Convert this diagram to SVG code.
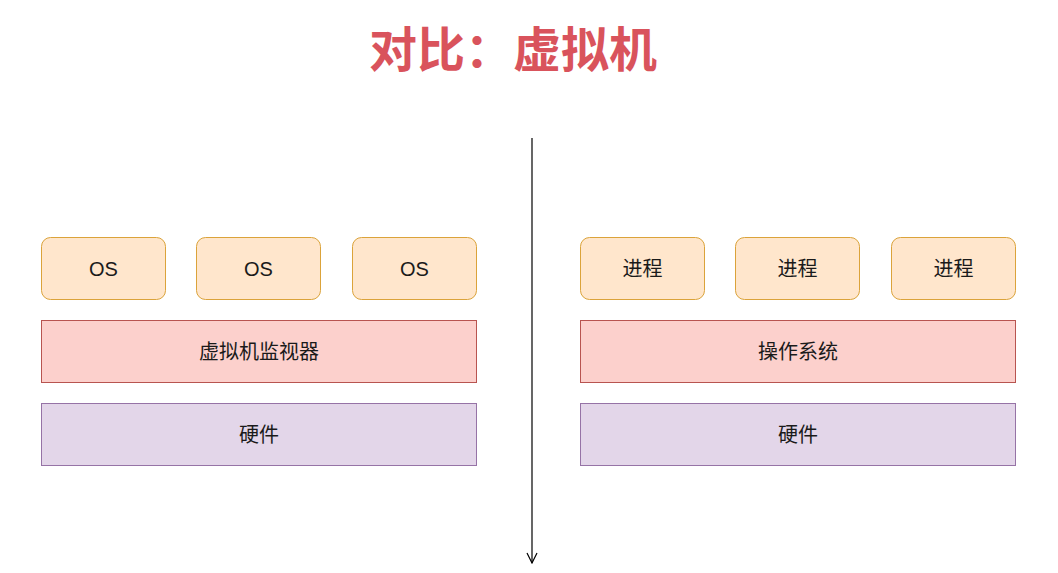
<svg xmlns="http://www.w3.org/2000/svg" width="1058" height="573" viewBox="0 0 1058 573">
<defs>
<style>
.o{fill:#ffe6cc;stroke:#dba33a;stroke-width:1}
.r{fill:#fcd0cc;stroke:#b85450;stroke-width:1}
.p{fill:#e3d6e9;stroke:#9673a6;stroke-width:1}
.t{font-family:"Liberation Sans","Noto Sans CJK SC",sans-serif;font-size:20px;fill:#1a1a1a;text-anchor:middle;dominant-baseline:central}
.title{font-family:"Noto Sans CJK SC",sans-serif;font-size:48px;font-weight:bold;fill:#d9535c;text-anchor:middle}
</style>
<marker id="ah" viewBox="0 0 12 12" refX="11" refY="6" markerWidth="12" markerHeight="12" markerUnits="userSpaceOnUse" orient="auto">
<path d="M1,1 L11,6 L1,11" fill="none" stroke="#000" stroke-width="1.2"/>
</marker>
</defs>
<rect width="1058" height="573" fill="#fff"/>
<text class="title" x="513" y="67">对比：虚拟机</text>
<g id="connectors">
<line x1="532" y1="138" x2="532" y2="563" stroke="#000" stroke-width="1.2" marker-end="url(#ah)"/>
</g>
<g id="os1"><rect class="o" x="41.5" y="237.5" width="124" height="62" rx="9"/><text class="t" x="103.5" y="268.5">OS</text></g>
<g id="os2"><rect class="o" x="196.5" y="237.5" width="124" height="62" rx="9"/><text class="t" x="258.5" y="268.5">OS</text></g>
<g id="os3"><rect class="o" x="352.5" y="237.5" width="124" height="62" rx="9"/><text class="t" x="414.5" y="268.5">OS</text></g>
<g id="vmm"><rect class="r" x="41.5" y="320.5" width="435" height="62"/><text class="t" x="259" y="351.5">虚拟机监视器</text></g>
<g id="hw1"><rect class="p" x="41.5" y="403.5" width="435" height="62"/><text class="t" x="259" y="434.5">硬件</text></g>
<g id="proc1"><rect class="o" x="580.5" y="237.5" width="124" height="62" rx="9"/><text class="t" x="642.5" y="268.5">进程</text></g>
<g id="proc2"><rect class="o" x="735.5" y="237.5" width="124" height="62" rx="9"/><text class="t" x="797.5" y="268.5">进程</text></g>
<g id="proc3"><rect class="o" x="891.5" y="237.5" width="124" height="62" rx="9"/><text class="t" x="953.5" y="268.5">进程</text></g>
<g id="os"><rect class="r" x="580.5" y="320.5" width="435" height="62"/><text class="t" x="798" y="351.5">操作系统</text></g>
<g id="hw2"><rect class="p" x="580.5" y="403.5" width="435" height="62"/><text class="t" x="798" y="434.5">硬件</text></g>
</svg>
